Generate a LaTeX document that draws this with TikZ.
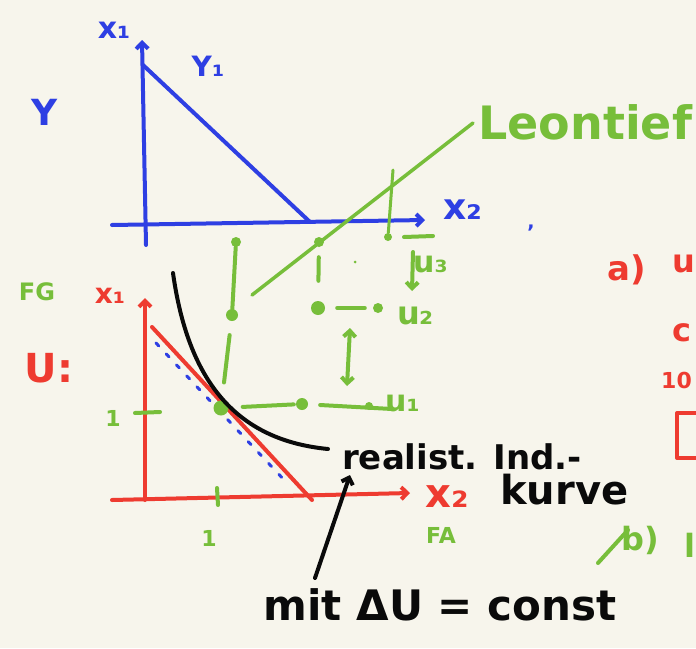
\documentclass[tikz,border=0pt]{standalone}
\usepackage{fontspec}
\setmainfont{DejaVu Sans}
\usetikzlibrary{arrows.meta}
\definecolor{bg}{HTML}{F7F5EC}
\definecolor{pblue}{HTML}{2E3FE3}
\definecolor{pgreen}{HTML}{77BE3A}
\definecolor{pred}{HTML}{EE3B30}
\definecolor{pblack}{HTML}{0A0A0A}
\tikzset{
  pen/.style={line width=4pt, line cap=round, line join=round},
  bluepen/.style={pen, draw=pblue},
  greenpen/.style={pen, draw=pgreen},
  redpen/.style={pen, draw=pred},
  blackpen/.style={pen, draw=pblack},
  tip/.style={-{Straight Barb[length=6pt,width=12pt]}},
  dot/.style={circle, fill=pgreen, inner sep=0pt, minimum size=#1},
  lbl/.style={inner sep=0pt, font=\fontsize{#1}{#1}\selectfont\bfseries},
}
\begin{document}
\begin{tikzpicture}[x=1pt,y=-1pt]
\fill[bg] (0,0) rectangle (696,648);
\useasboundingbox (0,0) rectangle (696,648);

% ---------- blue (upper) diagram ----------
\coordinate (bYb) at (146,245);
\coordinate (bYt) at (142,40);
\coordinate (bXl) at (112,225);
\coordinate (bXr) at (425,220);
\coordinate (bDa) at (143,65);
\coordinate (bDb) at (310,222);
\draw[bluepen,tip] (bYb) -- (bYt);
\draw[bluepen,tip] (bXl) -- (bXr);
\draw[bluepen] (bDa) -- (bDb);
\node[lbl=30, text=pblue] (bx1) at (114,30) {x₁};
\node[lbl=28, text=pblue] (by1) at (208,66) {Y₁};
\node[lbl=36, text=pblue] (bY) at (45,112) {Y};
\node[lbl=36, text=pblue, anchor=west] (bx2) at (443,210) {x₂};
\node[lbl=20, text=pblue] (btick) at (531,232) {'};

% ---------- red (lower) diagram ----------
\coordinate (rYb) at (145,500);
\coordinate (rYt) at (145,298);
\coordinate (rXl) at (112,500);
\coordinate (rXr) at (410,493);
\coordinate (rDa) at (152,327);
\coordinate (rDb) at (312,500);
\draw[redpen,tip] (rYb) -- (rYt);
\draw[redpen,tip] (rXl) -- (rXr);
\draw[redpen] (rDa) -- (rDb);
\draw[pen, draw=pblue, line width=3pt, dash pattern=on 4pt off 11pt] (156,343) -- (286,482);
\node[lbl=28, text=pred] (rx1) at (110,296) {x₁};
\node[lbl=40, text=pred] (rU) at (49,368) {U:};
\node[lbl=40, text=pred, anchor=west] (rx2) at (425,497) {x₂};
\node[lbl=34, text=pred] (ra) at (627,270) {a)};
\node[lbl=32, text=pred, anchor=west] (ru) at (672,264) {u};
\node[lbl=32, text=pred, anchor=west] (rc) at (672,333) {c};
\node[lbl=22, text=pred, anchor=west] (r10) at (661,380) {10};
\draw[redpen] (700,413) -- (677,413) -- (677,458) -- (700,458);

% ticks and green labels
\coordinate (tYa) at (135,413);
\coordinate (tYb) at (160,412);
\coordinate (tXa) at (217,488);
\coordinate (tXb) at (218,505);
\draw[greenpen] (tYa) -- (tYb);
\draw[greenpen] (tXa) -- (tXb);
\node[lbl=22, text=pgreen] (one1) at (113,418) {1};
\node[lbl=22, text=pgreen] (one2) at (209,538) {1};
\node[lbl=24, text=pgreen] (FG) at (37,292) {FG};
\node[lbl=22, text=pgreen] (FA) at (441,535) {FA};
\node[lbl=32, text=pgreen] (gb) at (640,540) {b)};
\draw[greenpen] (598,563) -- (628,530);
\node[lbl=32, text=pgreen, anchor=west] (gpart) at (684,545) {l};

% ---------- green Leontief structure ----------
\node[lbl=46, text=pgreen, anchor=west] (leon) at (478,122) {Leontief};
\coordinate (lA) at (473,123);
\coordinate (lB) at (252,295);
\draw[greenpen, line width=3.5pt] (lA) -- (lB);

\node[dot=10pt] (g1) at (236,242) {};
\node[dot=12pt] (g2) at (232,315) {};
\node[dot=15pt] (g3) at (221,408) {};
\node[dot=12pt] (g4) at (302,404) {};
\node[dot=8pt]  (g5) at (369,406) {};
\node[dot=10pt] (g6) at (319,242) {};
\node[dot=14pt] (g7) at (318,308) {};
\node[dot=10pt] (g8) at (378,308) {};
\node[dot=8pt]  (g9) at (388,237) {};
\node[dot=3pt]  (g10) at (355,262) {};
\coordinate (g9t) at (393,170);
\coordinate (u1e) at (392,409);

\draw[greenpen] (g1) -- (g2);
\draw[greenpen, shorten <=14pt, shorten >=18pt] (g2) -- (g3);
\draw[greenpen, shorten <=14pt, shorten >=2pt] (g3) -- (g4);
\draw[greenpen, shorten <=12pt] (g4) -- (u1e);
\draw[greenpen, shorten <=12pt, shorten >=8pt] (g7) -- (g8);
\draw[greenpen, shorten <=10pt, shorten >=20pt] (g6) -- (g7);
\draw[greenpen, line width=3pt] (g9t) -- (g9);

\node[lbl=30, text=pgreen, anchor=west] (u3) at (413,265) {u₃};
\node[lbl=32, text=pgreen, anchor=west] (u2) at (397,316) {u₂};
\node[lbl=30, text=pgreen, anchor=west] (u1) at (385,404) {u₁};

\coordinate (a1b) at (347,386);
\coordinate (a1t) at (350,328);
\draw[greenpen, {Straight Barb[length=6pt,width=12pt]}-{Straight Barb[length=6pt,width=12pt]}] (a1b) -- (a1t);
\coordinate (a3t) at (413,252);
\coordinate (a3b) at (412,291);
\coordinate (barL) at (404,237);
\coordinate (barR) at (433,236);
\draw[greenpen,tip] (a3t) -- (a3b);
\draw[greenpen] (barL) -- (barR);

% ---------- black indifference curve ----------
\coordinate (cA) at (173,273);
\coordinate (cB) at (328,449);
\draw[blackpen] (cA) .. controls (188,380) and (235,440) .. (cB);
\node[lbl=34, text=pblack, anchor=west] (real) at (342,457) {realist. Ind.-};
\node[lbl=40, text=pblack, anchor=west] (kurve) at (500,490) {kurve};
\node[lbl=42, text=pblack] (mit) at (440,605) {mit ΔU = const};
\coordinate (arA) at (315,578);
\coordinate (arB) at (350,475);
\draw[blackpen, tip] (arA) -- (arB);
\end{tikzpicture}
\end{document}
